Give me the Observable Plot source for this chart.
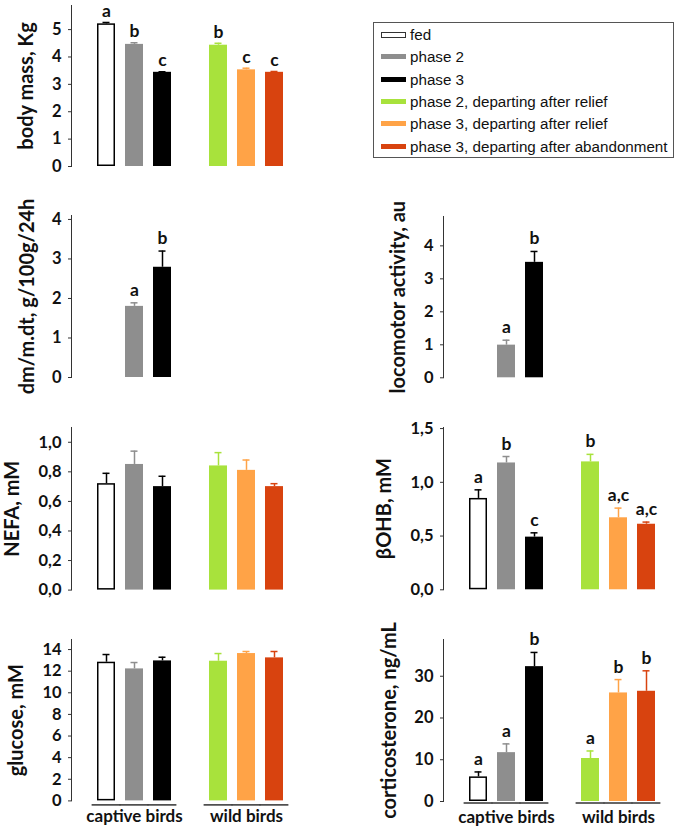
<!DOCTYPE html>
<html><head><meta charset="utf-8">
<script src="https://cdn.jsdelivr.net/npm/d3@7"></script>
<script src="https://cdn.jsdelivr.net/npm/@observablehq/plot@0.6"></script>
<style>
body{margin:0;background:#fff;}
#fig{position:relative;width:685px;height:828px;overflow:hidden;font-family:Lato,sans-serif;background:#fff;}
#fig svg{position:absolute;overflow:visible;}
.legend{position:absolute;left:373px;top:22px;width:301px;height:136px;border:1px solid #555;box-sizing:border-box;font-family:"Liberation Sans",Arial,sans-serif;font-size:15.2px;color:#111;}
.legend .row{position:absolute;left:7px;height:20px;display:flex;align-items:center;white-space:nowrap;}
.legend .sw{width:25px;height:5px;margin-right:4px;box-sizing:border-box;}
</style></head>
<body><div id="fig"></div>
<script>
const categories = ["fed","phase 2","phase 3","phase 2, departing after relief","phase 3, departing after relief","phase 3, departing after abandonment"];
const colors = ["#ffffff","#8e8e8e","#000000","#a8e23c","#ffa347","#d8430f"];
const errColors = ["#000000","#8e8e8e","#000000","#a8e23c","#ffa347","#d8430f"];
const slots = [categories[0],categories[1],categories[2]," ",categories[3],categories[4],categories[5]];
const groups = ["captive birds","wild birds"];

const bodyMass = [5.21,4.46,3.44,4.43,3.53,3.44];
const bodyMassErr = [0.05,0.06,0.02,0.07,0.06,0.03];
const bodyMassLetters = ["a","b","c","b","c","c"];

const dmdt = [null,1.80,2.79,null,null,null];
const dmdtErr = [null,0.09,0.41,null,null,null];
const dmdtLetters = [null,"a","b",null,null,null];

const loco = [null,0.99,3.50,null,null,null];
const locoErr = [null,0.15,0.33,null,null,null];
const locoLetters = [null,"a","b",null,null,null];

const nefa = [0.72,0.85,0.70,0.84,0.81,0.70];
const nefaErr = [0.07,0.09,0.07,0.09,0.07,0.02];

const bohb = [0.85,1.18,0.49,1.19,0.67,0.61];
const bohbErr = [0.08,0.06,0.04,0.07,0.09,0.02];
const bohbLetters = ["a","b","c","b","a,c","a,c"];

const glucose = [12.83,12.21,12.95,12.92,13.63,13.23];
const glucoseErr = [0.71,0.59,0.34,0.71,0.19,0.59];

const cort = [5.89,11.7,32.3,10.3,26.0,26.4];
const cortErr = [1.19,2.1,3.4,1.8,3.2,4.9];
const cortLetters = ["a","a","b","a","b","b"];

const ticksBody = [0,1,2,3,4,5];
const ticksDm = [0,1,2,3,4];
const ticksLoco = [0,1,2,3,4];
const ticksNefa = [0,0.2,0.4,0.6,0.8,1.0];
const ticksBohb = [0,0.5,1.0,1.5];
const ticksGlu = [0,2,4,6,8,10,12,14];
const ticksCort = [0,10,20,30];

const intFmt = d => String(d);
const commaFmt = d => d.toFixed(1).replace(".", ",");

const fig = document.getElementById("fig");

function panel(o) {
  const mt = 25, mb = 35;
  const colLeft = o.col === 0 ? 0 : 372;
  const data = categories.map((c,i)=>({cat:c, v:o.values[i], e:o.errors[i], l:o.letters ? o.letters[i] : null, i}))
    .filter(d => d.v != null);
  const h = (o.y0 - o.axisTop) + mt + mb;
  const marks = [
    Plot.frame({anchor:"left", stroke:"#333", strokeWidth:1}),
    Plot.axisY({ticks:o.ticks, tickFormat:o.fmt, tickSize:3, tickPadding:7, fontSize:16.5, fontWeight:"bold", label:null, stroke:"#333", fill:"#111"}),
    Plot.barY(data, {x:"cat", y:"v", fill:d=>colors[d.i]}),
    Plot.barY(data.filter(d=>d.cat==="fed"), {x:"cat", y:"v", fill:"white", stroke:"black", strokeWidth:1.5, inset:0.75}),
    Plot.ruleX(data, {x:"cat", y1:"v", y2:d=>d.v+d.e, stroke:d=>errColors[d.i], strokeWidth:1.5}),
    Plot.tickY(data, {x:"cat", y:d=>d.v+d.e, stroke:d=>errColors[d.i], strokeWidth:1.5, insetLeft:5.5, insetRight:5.5}),
    Plot.text([o.title], {text:d=>d, frameAnchor:"left", rotate:-90, textAnchor:"middle", lineAnchor:"bottom", dx:o.titleDx, fontSize:20, fontWeight:"bold", fill:"#111"})
  ];
  if (o.letters) {
    marks.push(Plot.text(data.filter(d=>d.l), {x:"cat", y:d=>d.v+d.e, text:"l", lineAnchor:"bottom", dy:o.letterDy ?? -7, fontSize:17.5, fontWeight:"bold", fill:"#111"}));
  }
  if (o.groupLine != null) {
    const gl = categories.map(c => ({cat:c}));
    marks.push(Plot.tickY(gl, {x:"cat", y:d=>0, dy:o.groupLine, stroke:"#333", strokeWidth:1.5, insetLeft:-5.4, insetRight:-5.4}));
    const gt = [{g:groups[0], cat:categories[1]}, {g:groups[1], cat:categories[4]}];
    marks.push(Plot.text(gt, {x:"cat", y:d=>0, text:"g", dy:16, fontSize:17, fontWeight:"bold", fill:"#111"}));
  }
  const svg = Plot.plot({
    width: 300, height: h,
    marginLeft: 71, marginRight: 11.4, marginTop: mt, marginBottom: mb,
    x: {type:"band", domain:slots, paddingInner:0.36, paddingOuter:0.18, insetLeft:19.6, axis:null},
    y: {domain:[0, o.yMax], axis:null},
    style: {fontFamily:"Lato, sans-serif", fontSize:"15px", background:"transparent", overflow:"visible", color:"#111"},
    marks
  });
  svg.style.left = colLeft + "px";
  svg.style.top = (o.axisTop - mt) + "px";
  fig.appendChild(svg);
}

panel({title:"body mass, Kg", values:bodyMass, errors:bodyMassErr, letters:bodyMassLetters, ticks:ticksBody, fmt:intFmt, yMax:5.88, col:0, axisTop:5, y0:166, titleDx:-39, letterDy:-5.5});
panel({title:"dm/m.dt, g/100g/24h", values:dmdt, errors:dmdtErr, letters:dmdtLetters, ticks:ticksDm, fmt:intFmt, yMax:4.1, col:0, axisTop:215, y0:377, titleDx:-38});
panel({title:"locomotor activity, au", values:loco, errors:locoErr, letters:locoLetters, ticks:ticksLoco, fmt:intFmt, yMax:4.89, col:1, axisTop:215.7, y0:377, titleDx:-39});
panel({title:"NEFA, mM", values:nefa, errors:nefaErr, letters:null, ticks:ticksNefa, fmt:commaFmt, yMax:1.1, col:0, axisTop:426.7, y0:589.3, titleDx:-53});
panel({title:"βOHB, mM", values:bohb, errors:bohbErr, letters:bohbLetters, ticks:ticksBohb, fmt:commaFmt, yMax:1.51, col:1, axisTop:427, y0:589.3, titleDx:-53});
panel({title:"glucose, mM", values:glucose, errors:glucoseErr, letters:null, ticks:ticksGlu, fmt:intFmt, yMax:14.93, col:0, axisTop:639.3, y0:800.7, titleDx:-49, groupLine:4});
panel({title:"corticosterone, ng/mL", values:cort, errors:cortErr, letters:cortLetters, ticks:ticksCort, fmt:intFmt, yMax:38.8, col:1, axisTop:639.3, y0:801.3, titleDx:-48, groupLine:1.5});

// legend
const leg = document.createElement("div");
leg.className = "legend";
categories.forEach((c,i) => {
  const row = document.createElement("div");
  row.className = "row";
  row.style.top = (1.5 + 22.3*i) + "px";
  const sw = document.createElement("div");
  sw.className = "sw";
  sw.style.background = colors[i];
  if (i === 0) { sw.style.border = "1px solid #333"; sw.style.height = "6px"; }
  const t = document.createElement("span");
  t.textContent = c;
  row.appendChild(sw); row.appendChild(t);
  leg.appendChild(row);
});
fig.appendChild(leg);
</script>
</body></html>
